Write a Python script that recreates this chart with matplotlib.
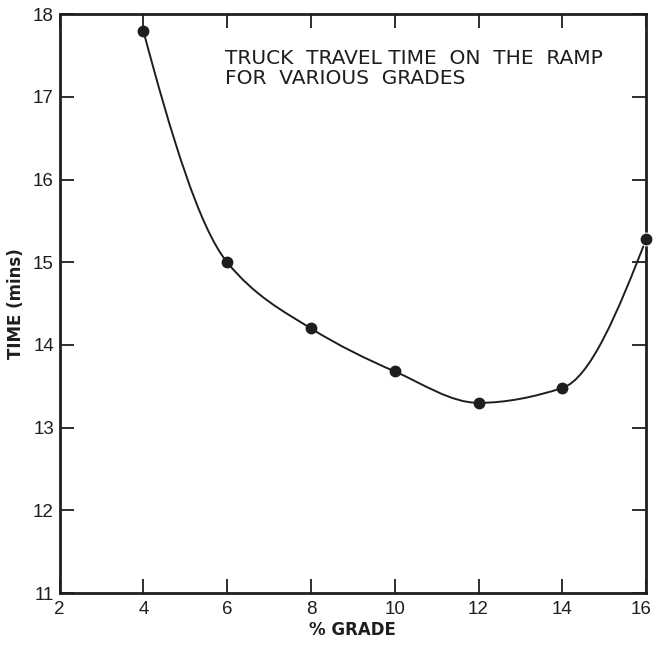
import numpy as np
import matplotlib
matplotlib.use("Agg")
import matplotlib.pyplot as plt
from matplotlib.path import Path
from matplotlib.patches import PathPatch
from matplotlib.transforms import ScaledTranslation

# data
grade = [4, 6, 8, 10, 12, 14, 16]
time_mins = [17.8, 15.0, 14.2, 13.68, 13.3, 13.48, 15.28]

x_ticks = [2, 4, 6, 8, 10, 12, 14, 16]
y_ticks = [11, 12, 13, 14, 15, 16, 17, 18]
title = "TRUCK  TRAVEL TIME  ON  THE  RAMP\nFOR  VARIOUS  GRADES"

INK = "#1e1e1e"


def pchip_slopes(x, y):
    # shape preserving (fritsch-carlson) slopes, like scipy's PchipInterpolator
    h = np.diff(x)
    s = np.diff(y) / h
    n = len(x)
    d = np.zeros(n)
    for i in range(1, n - 1):
        if s[i - 1] * s[i] > 0:
            w1 = 2 * h[i] + h[i - 1]
            w2 = h[i] + 2 * h[i - 1]
            d[i] = (w1 + w2) / (w1 / s[i - 1] + w2 / s[i])

    def end(h0, h1, s0, s1):
        e = ((2 * h0 + h1) * s0 - h0 * s1) / (h0 + h1)
        if np.sign(e) != np.sign(s0):
            return 0.0
        if np.sign(s0) != np.sign(s1) and abs(e) > abs(3 * s0):
            return 3 * s0
        return e

    d[0] = end(h[0], h[1], s[0], s[1])
    d[-1] = end(h[-1], h[-2], s[-1], s[-2])
    return d


def smooth_path(x, y):
    # cubic hermite curve through the points, drawn as bezier segments
    x = np.asarray(x, float)
    y = np.asarray(y, float)
    d = pchip_slopes(x, y)
    verts = [(x[0], y[0])]
    codes = [Path.MOVETO]
    for i in range(len(x) - 1):
        h = x[i + 1] - x[i]
        verts += [(x[i] + h / 3, y[i] + h / 3 * d[i]),
                  (x[i + 1] - h / 3, y[i + 1] - h / 3 * d[i + 1]),
                  (x[i + 1], y[i + 1])]
        codes += [Path.CURVE4] * 3
    return Path(verts, codes)


fig = plt.figure(figsize=(6.54, 6.46), dpi=100)
ax = fig.add_axes([0.091, 0.082, 0.897, 0.896])

ax.add_patch(PathPatch(smooth_path(grade, time_mins), facecolor="none",
                       edgecolor=INK, lw=1.4, zorder=3))
ax.plot(grade[:-1], time_mins[:-1], "o", color=INK, ms=7.5, clip_on=False, zorder=5)
# last point sits on the right frame, which is broken round it
ax.plot(grade[-1:], time_mins[-1:], "o", color=INK, ms=7.5, mec="white", mew=2.5,
        clip_on=False, zorder=6)
ax.plot(grade[-1:], time_mins[-1:], "o", color=INK, ms=7.5, clip_on=False, zorder=7)

ax.set_xlim(2, 16)
ax.set_ylim(11, 18)
ax.set_xticks(x_ticks)
ax.set_yticks(y_ticks)
ax.tick_params(direction="in", length=10, width=1.3, top=True, right=True,
               labelsize=13.5, colors=INK, pad=4)
ax.tick_params(axis="x", pad=6)
for lab in ax.get_xticklabels() + ax.get_yticklabels():
    lab.set_family("Liberation Sans")
# keep the "16" inside the picture
last = ax.get_xticklabels()[-1]
last.set_transform(last.get_transform() + ScaledTranslation(-4 / 72, 0, fig.dpi_scale_trans))
for s in ax.spines.values():
    s.set_linewidth(2)
    s.set_color(INK)

ax.set_xlabel("% GRADE", fontsize=12, fontweight="bold", color=INK, labelpad=2)
ax.set_ylabel("TIME (mins)", fontsize=12, fontweight="bold", color=INK, labelpad=6)

ax.text(0.282, 0.94, title, transform=ax.transAxes, fontsize=14.5,
        color=INK, va="top", ha="left", linespacing=1.1)

fig.savefig("out.png", dpi=100, facecolor="white")
